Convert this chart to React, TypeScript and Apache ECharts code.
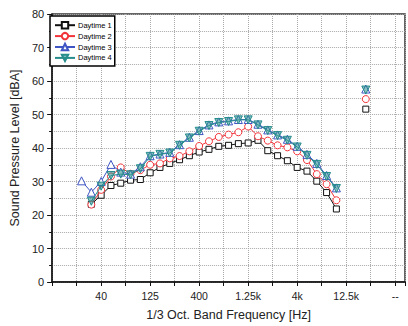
import React, { useEffect, useRef } from "react";
import * as echarts from "echarts";

// 1/3 octave bands plotted (index 0 = 25 Hz ... 26 = 10 kHz)
const bands = ["25","31.5","40","50","63","80","100","125","160","200","250","315","400","500","630","800","1k","1.25k","1.6k","2k","2.5k","3.15k","4k","5k","6.3k","8k","10k"];
// axis labels every 5 bands starting at 40 Hz
const tickLabels = ["40", "125", "400", "1.25k", "4k", "12.5k", "--"];

const daytime1 = [null, 23.2, 25.9, 28.8, 29.5, 30.4, 30.6, 32.6, 34.2, 35.4, 36.5, 37.7, 38.8, 39.6, 40.5, 40.8, 41.3, 41.5, 42.3, 39.2, 37.7, 36.2, 34.2, 33.1, 30.1, 26.7, 21.8];
const daytime2 = [null, 23.1, 27.5, 31.5, 34.2, 32.3, 33.4, 35.0, 35.4, 36.9, 37.6, 39.0, 40.6, 42.0, 43.3, 44.0, 44.7, 46.4, 43.5, 42.2, 40.8, 40.2, 39.0, 36.4, 32.2, 29.2, 24.4];
const daytime3 = [30.2, 26.8, 30.0, 35.1, 32.8, 32.2, 34.4, 37.7, 38.2, 38.7, 41.0, 43.2, 45.2, 46.9, 47.8, 48.1, 48.5, 48.5, 47.1, 45.4, 43.9, 42.6, 40.5, 38.1, 35.4, 31.8, 28.1];
const daytime4 = [null, 24.1, 28.6, 31.8, 32.2, 32.0, 33.8, 37.5, 38.1, 38.5, 40.8, 43.0, 45.0, 46.7, 47.6, 47.9, 48.4, 48.4, 46.9, 45.2, 43.7, 42.3, 40.3, 37.8, 35.1, 31.5, 27.9];
// overall level, plotted apart from the spectrum
const overall = [51.6, 54.6, 57.6, 57.3];

const seriesNames = ["Daytime 1", "Daytime 2", "Daytime 3", "Daytime 4"];
const seriesValues = [daytime1, daytime2, daytime3, daytime4];

const FIRST_BAND_POS = -2; // 25 Hz sits two bands left of 40 Hz
const OVERALL_POS = 27;

const colors = ["#111111", "#f2333a", "#3f55c4", "#268c8c"];
const fills = ["#ffffff", "#ffffff", "#ffffff", "rgba(38,140,140,0.55)"];
const symbols = ["rect", "circle", "triangle", "triangle"];
const rotates = [0, 0, 0, 180];
const sizes = [6, 7, 8, 8];

export default function App() {
  const ref = useRef<HTMLDivElement>(null);
  useEffect(() => {
    if (!ref.current) return;
    const chart = echarts.init(ref.current, undefined, { renderer: "svg" });
    const font = "Liberation Sans, Arial, sans-serif";
    const series = seriesValues.map((vals, k) => {
      const data: any[] = vals.map((v, i) => [i + FIRST_BAND_POS, v === null ? "-" : v]);
      data.push([OVERALL_POS - 1, "-"]);
      data.push([OVERALL_POS, overall[k]]);
      return {
        name: seriesNames[k],
        type: "line",
        data,
        symbol: symbols[k],
        symbolRotate: rotates[k],
        symbolSize: sizes[k],
        showAllSymbol: true,
        connectNulls: false,
        lineStyle: { color: colors[k], width: 1 },
        itemStyle: { color: fills[k], borderColor: colors[k], borderWidth: 1 },
        z: 2 + k,
      };
    });
    chart.setOption({
      animation: false,
      backgroundColor: "#ffffff",
      textStyle: { fontFamily: font },
      grid: {
        left: 47,
        top: 14,
        right: -2,
        bottom: 41,
        show: true,
        borderColor: "#333",
        borderWidth: 1.5,
        backgroundColor: "transparent",
      },
      legend: {
        orient: "vertical",
        left: 50,
        top: 16,
        padding: [5, 3, 4, 4],
        itemWidth: 20,
        itemHeight: 8,
        itemGap: 2.5,
        borderColor: "#000",
        borderWidth: 1.5,
        backgroundColor: "#fff",
        textStyle: { fontSize: 7.5, color: "#000", fontFamily: font, padding: [0, 0, 0, -2] },
        data: seriesNames,
      },
      xAxis: {
        type: "value",
        min: -5,
        max: 31,
        interval: 5,
        name: "1/3 Oct. Band Frequency [Hz]",
        nameLocation: "middle",
        nameGap: 26,
        nameTextStyle: { fontSize: 12.5, color: "#222", fontFamily: font },
        axisLine: { show: true, onZero: false, lineStyle: { color: "#111", width: 1.5 } },
        axisTick: { show: true, length: 4, inside: false, lineStyle: { color: "#111" } },
        minorTick: { show: true, splitNumber: 2, length: 4, lineStyle: { color: "#111" } },
        splitLine: { show: true, lineStyle: { color: "#aaa", type: "dotted", width: 1 } },
        minorSplitLine: { show: true, lineStyle: { color: "#aaa", type: "dotted", width: 1 } },
        axisLabel: {
          fontSize: 10.5,
          color: "#222",
          margin: 8,
          fontFamily: font,
          formatter: (v: number) => {
            const idx = Math.round(v / 5);
            if (Math.abs(v - idx * 5) > 1e-6 || idx < 0 || idx >= tickLabels.length) return "";
            return tickLabels[idx];
          },
        },
      },
      yAxis: {
        type: "value",
        min: 0,
        max: 80,
        interval: 10,
        name: "Sound Pressure Level [dBA]",
        nameLocation: "middle",
        nameGap: 29,
        nameTextStyle: { fontSize: 12.5, color: "#222", fontFamily: font },
        axisLine: { show: true, onZero: false, lineStyle: { color: "#111", width: 1.5 } },
        axisTick: { show: true, length: 5, inside: false, lineStyle: { color: "#111" } },
        minorTick: { show: true, splitNumber: 2, length: 3, lineStyle: { color: "#111" } },
        splitLine: { show: true, lineStyle: { color: "#aaa", type: "dotted", width: 1 } },
        minorSplitLine: { show: true, lineStyle: { color: "#aaa", type: "dotted", width: 1 } },
        axisLabel: { fontSize: 11, color: "#222", margin: 8, fontFamily: font },
      },
      series,
    });
    return () => chart.dispose();
  }, []);
  return (
    <div
      ref={ref}
      style={{ position: "fixed", left: 0, top: 0, width: 408, height: 326 }}
      data-bands={bands.length}
    />
  );
}
